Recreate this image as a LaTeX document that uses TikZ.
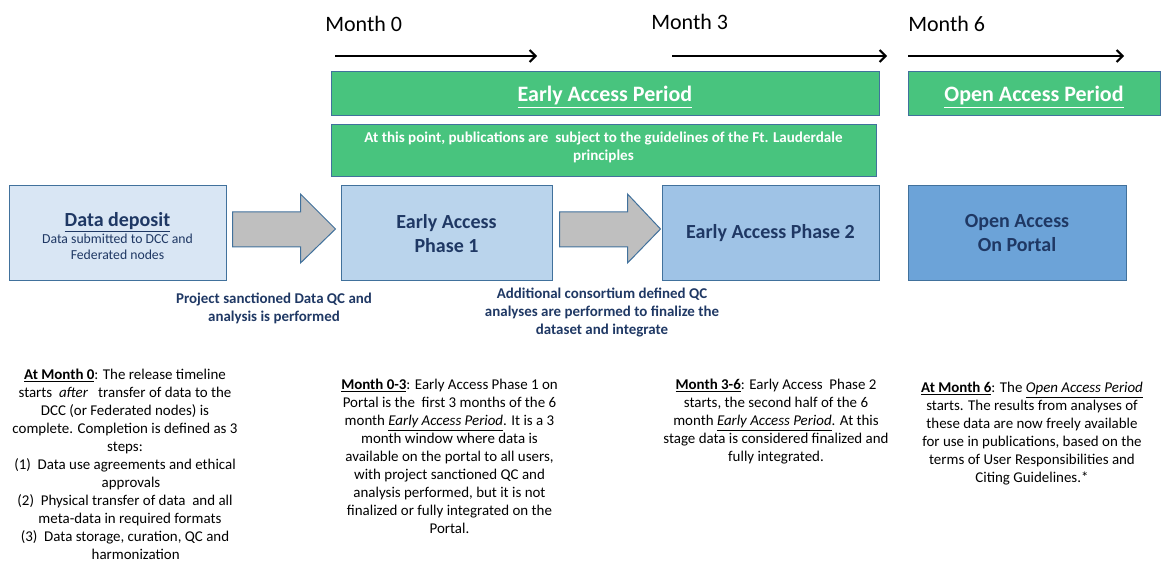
\documentclass[tikz,border=0pt]{standalone}
\usepackage{fontspec}
\setmainfont{Carlito}
\usetikzlibrary{arrows.meta,calc}

\definecolor{edgeblue}{HTML}{41719C}
\definecolor{periodgreen}{HTML}{48C47E}
\definecolor{navy}{HTML}{1F3864}
\definecolor{arrowgrey}{HTML}{BFBFBF}
\definecolor{depfill}{HTML}{D9E6F4}
\definecolor{phonefill}{HTML}{BAD4EC}
\definecolor{phtwofill}{HTML}{9FC3E6}
\definecolor{portalfill}{HTML}{6CA3D8}

\tikzset{
  period/.style={draw=edgeblue, line width=0.75pt, fill=periodgreen, text=white,
    font=\fontsize{16.5}{20}\selectfont\bfseries, minimum height=33pt, inner sep=0pt},
  stage/.style={draw=edgeblue, line width=0.75pt, text=navy, align=center,
    minimum height=71.25pt, inner sep=0pt, font=\fontsize{15}{18}\selectfont\bfseries},
  blockarrow/.style={draw=edgeblue, line width=0.75pt, fill=arrowgrey},
  timeline/.style={line width=1.5pt, -{Straight Barb[length=4.5pt,width=9pt]}},
  month/.style={font=\fontsize{16.5}{20}\selectfont, inner sep=0pt},
  stepnote/.style={text=navy, align=center, font=\fontsize{11.2}{13.5}\selectfont\bfseries, inner sep=0pt},
  note/.style={align=center, font=\fontsize{11.2}{13.5}\selectfont, inner sep=0pt},
}

\begin{document}
\begin{tikzpicture}[x=0.75pt, y=-0.75pt]
  \useasboundingbox (0,0) rectangle (1161,563);

  % months and time line
  \node[month, anchor=base west] (m0) at (325,32) {Month 0};
  \node[month, anchor=base west] (m3) at (651,30) {Month 3};
  \node[month, anchor=base west] (m6) at (908,32) {Month 6};

  \coordinate (t0a) at (335,56);
  \coordinate (t0b) at (537,56);
  \coordinate (t3a) at (672,56);
  \coordinate (t3b) at (887,56);
  \coordinate (t6a) at (908,56);
  \coordinate (t6b) at (1124,56);
  \draw[timeline] (t0a) -- (t0b);
  \draw[timeline] (t3a) -- (t3b);
  \draw[timeline] (t6a) -- (t6b);

  % access periods
  \node[period, minimum width=411pt] (early) at (605,94) {\rule{0pt}{16pt}\underline{Early Access Period}};
  \node[period, minimum width=189pt] (open) at (1034,94) {\rule{0pt}{16pt}\underline{Open Access Period}};
  \node[period, minimum width=408.75pt, minimum height=39pt, align=center,
    font=\fontsize{11.3}{13.5}\selectfont\bfseries] (rules) at (603.5,151)
    {At this point, publications are\ \ subject to the guidelines of the Ft. Lauderdale\\
     principles\rule[-6.8pt]{0pt}{6.8pt}};

  % stages
  \node[stage, fill=depfill, minimum width=162.75pt, font=\fontsize{10.3}{12}\selectfont] (dep) at (117.5,233.5)
    {\rule{0pt}{14pt}{\fontsize{15}{18}\selectfont\bfseries\underline{Data deposit}}\\[1pt]Data submitted to DCC and\\Federated nodes};
  \node[stage, fill=phonefill, minimum width=158.25pt] (ph1) at (446.5,233.5) {Early Access\\Phase 1};
  \node[stage, fill=phtwofill, minimum width=162.75pt] (ph2) at (770.5,233.5) {Early Access Phase 2};
  \node[stage, fill=portalfill, minimum width=163.5pt] (portal) at (1017,233.5) {Open Access\\On Portal};

  \draw[blockarrow] ($(dep.east)+(6,-21.5)$) -- ($(dep.east)+(74,-21.5)$) -- ($(dep.east)+(74,-39.5)$)
    -- ($(ph1.west)+(-5,-4.5)$) -- ($(dep.east)+(74,29.5)$) -- ($(dep.east)+(74,13.5)$)
    -- ($(dep.east)+(6,13.5)$) -- cycle;
  \draw[blockarrow] ($(ph1.east)+(7,-21.5)$) -- ($(ph1.east)+(75,-21.5)$) -- ($(ph1.east)+(75,-39.5)$)
    -- ($(ph2.west)+(-1,-4.5)$) -- ($(ph1.east)+(75,29.5)$) -- ($(ph1.east)+(75,13.5)$)
    -- ($(ph1.east)+(7,13.5)$) -- cycle;

  \node[stepnote, anchor=north] (qc1) at (274,293) {Project sanctioned Data QC and\\analysis is performed};
  \node[stepnote, anchor=north] (qc2) at (602,288)
    {Additional consortium defined QC\\analyses are performed to finalize the\\dataset and integrate};

  % notes under each stage
  \node[note, anchor=north] (n0) at (125,369) {\underline{\textbf{At Month 0}}: The release timeline\\
    starts\ \ \textit{after}\ \ \ transfer of data to the\\
    DCC (or Federated nodes) is\\
    complete. Completion is defined as 3\\
    steps:\\
    (1)\ \ Data use agreements and ethical\\
    \hspace*{9pt}approvals\\
    (2)\ \ Physical transfer of data\ \ and all\\
    \hspace*{7.5pt}meta-data in required formats\\
    (3)\ \ Data storage, curation, QC and\\
    \hspace*{16pt}harmonization};
  \node[note, anchor=north] (n03) at (449.5,379) {\underline{\textbf{Month 0-3}}: Early Access Phase 1 on\\
    Portal is the\ \ first 3 months of the 6\\
    month \textit{\underline{Early Access Period}}. It is a 3\\
    month window where data is\\
    available on the portal to all users,\\
    with project sanctioned QC and\\
    analysis performed, but it is not\\
    finalized or fully integrated on the\\
    Portal.};
  \node[note, anchor=north] (n36) at (776,379) {\underline{\textbf{Month 3-6}}: Early Access\ \ Phase 2\\
    starts, the second half of the 6\\
    month \textit{\underline{Early Access Period}}. At this\\
    stage data is considered finalized and\\
    fully integrated.};
  \node[note, anchor=north] (n6) at (1032,382) {\underline{\textbf{At Month 6}}: The \textit{\underline{Open Access Period}}\\
    starts. The results from analyses of\\
    these data are now freely available\\
    for use in publications, based on the\\
    terms of User Responsibilities and\\
    Citing Guidelines.*};
\end{tikzpicture}
\end{document}
